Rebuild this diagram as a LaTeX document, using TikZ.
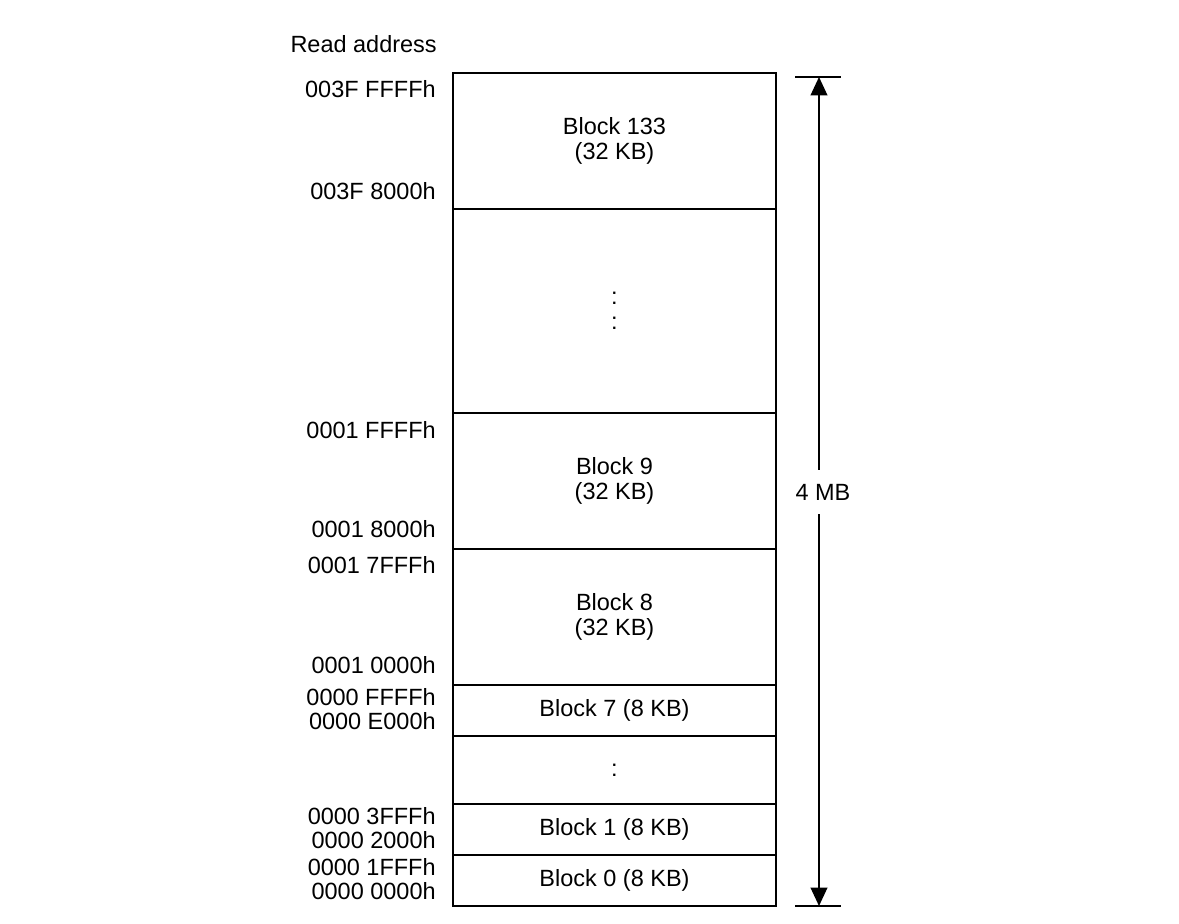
\documentclass[tikz,border=0pt]{standalone}
\usepackage{fontspec}
\setmainfont{Liberation Sans}
\usetikzlibrary{arrows.meta, positioning, calc}

\begin{document}
\begin{tikzpicture}[
  x=0.025cm, y=-0.025cm,
  font=\fontsize{16.7}{17.5}\selectfont,
  blk/.style={draw, line width=1.2pt, minimum width=8.075cm, inner sep=0pt,
              outer sep=0pt, align=center},
  big/.style={blk, minimum height=3.4cm},
  small/.style={blk, minimum height=1.275cm},
  addr/.style={anchor=east, inner sep=0pt},
  dim/.style={line width=1pt},
  ar/.style={dim, -{Triangle[length=0.46cm, width=0.42cm]}}
]
\useasboundingbox (0,0) rectangle (1179,924);

% memory map, stacked top (high address) to bottom
\node[big] (b133) at (614.5,141) {Block 133\\(32 KB)};
\node[blk, minimum height=5.1cm, below=0pt of b133] (gapA) {:\\:};
\node[big, below=0pt of gapA] (b9) {Block 9\\(32 KB)};
\node[big, below=0pt of b9] (b8) {Block 8\\(32 KB)};
\node[small, below=0pt of b8] (b7) {Block 7 (8 KB)};
\node[blk, minimum height=1.7cm, below=0pt of b7] (gapB) {:};
\node[small, below=0pt of gapB] (b1) {Block 1 (8 KB)};
\node[small, below=0pt of b1] (b0) {Block 0 (8 KB)};

\node[addr] (head) at (437,44) {Read address};

\node[addr] (a133h) at ($(b133.north west)+(-17,16)$) {003F FFFFh};
\node[addr] (a133l) at ($(b133.south west)+(-17,-18)$) {003F 8000h};
\node[addr] (a9h) at ($(b9.north west)+(-17,17)$) {0001 FFFFh};
\node[addr] (a9l) at ($(b9.south west)+(-17,-20)$) {0001 8000h};
\node[addr] (a8h) at ($(b8.north west)+(-17,16)$) {0001 7FFFh};
\node[addr] (a8l) at ($(b8.south west)+(-17,-20)$) {0001 0000h};
\node[addr] (a7h) at ($(b7.north west)+(-17,12)$) {0000 FFFFh};
\node[addr] (a7l) at ($(b7.south west)+(-17,-15)$) {0000 E000h};
\node[addr] (a1h) at ($(b1.north west)+(-17,12)$) {0000 3FFFh};
\node[addr] (a1l) at ($(b1.south west)+(-17,-15)$) {0000 2000h};
\node[addr] (a0h) at ($(b0.north west)+(-17,12)$) {0000 1FFFh};
\node[addr] (a0l) at ($(b0.south west)+(-17,-15)$) {0000 0000h};

% total size
\coordinate (dimtop) at (819,77);
\coordinate (dimbot) at (819,906);
\draw[dim] ($(dimtop)+(-24,0)$) -- ++(46,0);
\draw[dim] ($(dimbot)+(-24,0)$) -- ++(46,0);
\node[inner xsep=0pt, inner ysep=0.35cm] (size) at (823,492) {4 MB};
\draw[ar] (dimtop |- size.north) -- (dimtop);
\draw[ar] (dimbot |- size.south) -- (dimbot);
\end{tikzpicture}
\end{document}
